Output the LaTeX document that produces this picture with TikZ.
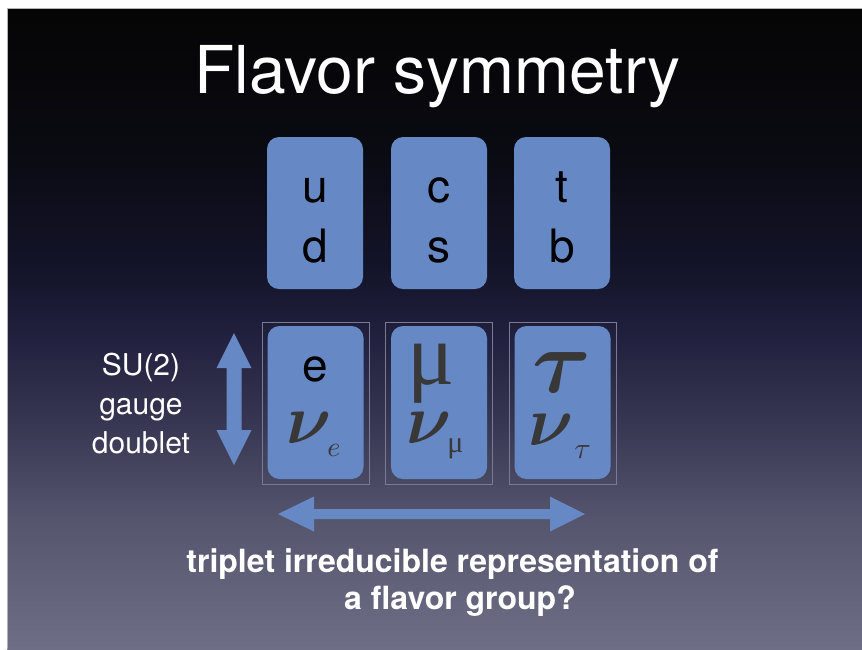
\documentclass[tikz,border=0pt]{standalone}
\usepackage{graphicx}
\usepackage{amsmath}
\usepackage{fontspec}
\setmainfont{TeX Gyre Heros}
\newfontfamily\muserif{Liberation Serif}
\definecolor{cardblue}{HTML}{6688C4}
\definecolor{glyph}{HTML}{383838}
\definecolor{frameg}{HTML}{7A7A96}
\definecolor{bgA}{HTML}{050505}
\definecolor{bgB}{HTML}{0A0A12}
\definecolor{bgC}{HTML}{15152C}
\definecolor{bgD}{HTML}{222240}
\definecolor{bgE}{HTML}{363652}
\definecolor{bgF}{HTML}{55556E}
\definecolor{bgG}{HTML}{6E6E86}
\newcommand{\bignu}{\scalebox{7}{$\boldsymbol{\nu}$}}
\tikzset{
  card/.style={fill=cardblue, rounded corners=12pt, minimum width=96pt, minimum height=152pt, inner sep=0pt},
  cardframe/.style={draw=frameg, line width=0.6pt, minimum width=107pt, minimum height=162pt, inner sep=0pt},
  lettr/.style={anchor=base, inner sep=0pt, text=black, font=\fontsize{46}{46}\selectfont},
  mathtxt/.style={anchor=base, inner sep=0pt, text=glyph},
  whitetxt/.style={anchor=base, inner sep=0pt, text=white},
  arrowfill/.style={fill=cardblue, draw=none}
}
\begin{document}
\begin{tikzpicture}[x=1pt,y=-1pt]
\useasboundingbox (0,0) rectangle (862,649);
\fill[white] (0,0) rectangle (862,649);
% background bands
\shade[top color=bgA, bottom color=bgB] (7,8) rectangle (862,150.5);
\shade[top color=bgB, bottom color=bgC] (7,150) rectangle (862,280.5);
\shade[top color=bgC, bottom color=bgD] (7,280) rectangle (862,340.5);
\shade[top color=bgD, bottom color=bgE] (7,340) rectangle (862,420.5);
\shade[top color=bgE, bottom color=bgF] (7,420) rectangle (862,520.5);
\shade[top color=bgF, bottom color=bgG] (7,520) rectangle (862,649);
\draw[gray!60, line width=0.8pt] (7,649) -- (7,8) -- (862,8);

% title
\node[whitetxt, font=\fontsize{66}{66}\selectfont] (title) at (437.5,93) {Flavor symmetry};

% top row (quarks)
\node[card] (q1) at (315,213) {};
\node[card] (q2) at (439,213) {};
\node[card] (q3) at (562,213) {};
\node[lettr] (u) at (315,202) {u};
\node[lettr] (d) at (315,262) {d};
\node[lettr] (c) at (439,202) {c};
\node[lettr] (s) at (439,262) {s};
\node[lettr] (t) at (562,202) {t};
\node[lettr] (b) at (562,262) {b};

% bottom row (leptons)
\node[cardframe] (f1) at (315.5,403) {};
\node[cardframe] (f2) at (438.5,403) {};
\node[cardframe] (f3) at (562.5,403) {};
\node[card, minimum height=153pt] (l1) at (315.5,402.5) {};
\node[card, minimum height=153pt] (l2) at (439,402.5) {};
\node[card, minimum height=153pt] (l3) at (562.5,402.5) {};

\node[lettr] (ee) at (315,381) {e};
\node[mathtxt] (nue) at (309,443) {\bignu};
\node[mathtxt] (nuesub) at (334,456) {\scalebox{2.8}{$e$}};
\node[mathtxt, font=\muserif\fontsize{88}{88}\selectfont] (mu) at (431,384) {μ};
\node[mathtxt] (numu) at (429,443) {\bignu};
\node[mathtxt, font=\muserif\fontsize{30}{30}\selectfont] (numusub) at (455.5,452) {μ};
\node[mathtxt] (tau) at (562,392) {\scalebox{9}{$\boldsymbol{\tau}$}};
\node[mathtxt] (nut) at (551,445) {\bignu};
\node[mathtxt] (nutsub) at (582.5,458) {\scalebox{3}{$\tau$}};

% SU(2) label
\node[whitetxt, font=\fontsize{30}{30}\selectfont] (su) at (141,375) {SU(2)};
\node[whitetxt, font=\fontsize{30}{30}\selectfont] (gauge) at (141,414) {gauge};
\node[whitetxt, font=\fontsize{30}{30}\selectfont] (doublet) at (141,453) {doublet};

% vertical double arrow
\coordinate (vt) at (234,333);
\coordinate (vb) at (234,465);
\fill[arrowfill] (vt) -- ++(17.5,35) -- ++(-10,0) -- ++(0,62) -- ++(10,0) -- (vb)
  -- ++(-17.5,-35) -- ++(10,0) -- ++(0,-62) -- ++(-10,0) -- cycle;

% horizontal double arrow
\coordinate (hl) at (278,514);
\coordinate (hr) at (585,514);
\fill[arrowfill] (hl) -- ++(36,-17.5) -- ++(0,12.5) -- ++(236,0) -- ++(0,-12.5) -- (hr)
  -- ++(-35,17.5) -- ++(0,-12.5) -- ++(-236,0) -- ++(0,12.5) -- cycle;

% bottom question
\node[whitetxt, font=\bfseries\fontsize{32}{32}\selectfont] (q1txt) at (452.5,572) {triplet irreducible representation of};
\node[whitetxt, font=\bfseries\fontsize{32}{32}\selectfont] (q2txt) at (460,609) {a flavor group?};
\end{tikzpicture}
\end{document}
